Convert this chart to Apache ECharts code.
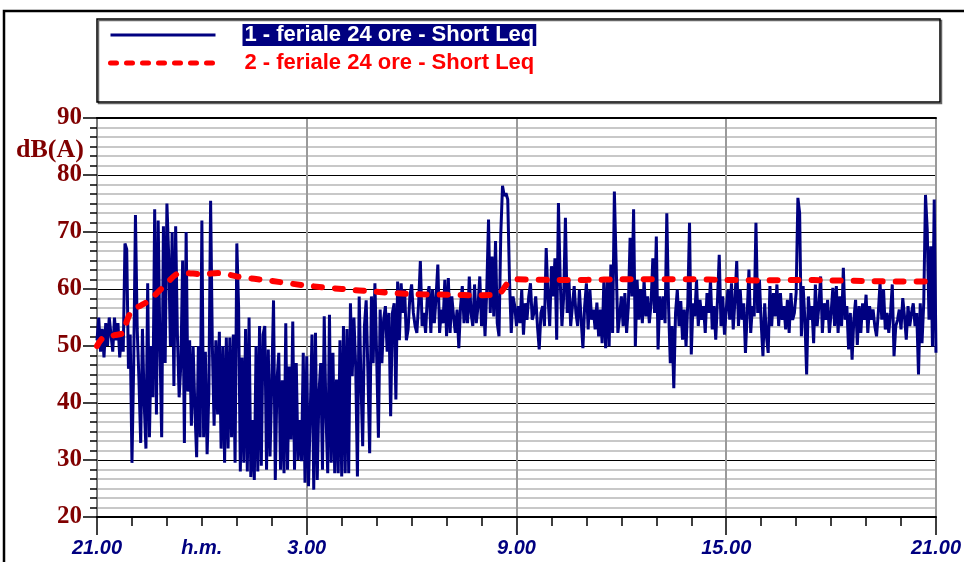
<!DOCTYPE html>
<html>
<head>
<meta charset="utf-8">
<script src="https://cdn.jsdelivr.net/npm/echarts@6/dist/echarts.min.js"></script>
<style>
  html, body { margin: 0; padding: 0; background: #fff; }
  #chart { width: 964px; height: 562px; }
</style>
</head>
<body>
<div id="chart"></div>
<script>
// serie 1: Short Leq ogni 3 minuti dalle 21.00 alle 21.00 del giorno dopo
const blueValues = [
  51, 55, 49, 53, 48, 54, 50, 55, 52, 49, 55, 51, 54, 48, 52,
  49, 68, 67, 46, 52, 29.5, 47, 73, 53, 44, 33, 53, 40, 32, 61,
  34, 50, 41, 74, 38, 72, 50, 34, 71, 47, 75, 66, 50, 70, 43,
  71, 52, 41, 47, 65, 33, 70, 42, 51, 36, 50, 39, 30.5, 50, 34,
  72, 34, 49, 31, 42, 75.5, 50, 36, 51, 38, 52.5, 32, 50, 29.5, 51.5,
  32, 51.5, 34, 52, 29.5, 68, 57, 28, 48, 29.5, 53, 28, 55, 27, 37,
  26.5, 50, 28, 53.5, 29, 52,
  53.5, 28.3, 49.4, 30.6, 44, 58, 26.5, 44, 48.8, 28.3,
  44, 27.7, 54, 28.3, 46.4, 33.6, 54.3, 28.3, 47, 30,
  37, 29.8, 48.8, 26, 48.2, 25.4, 38, 52, 24.8, 52.3,
  26.5, 41.8, 47, 28.3, 55.2, 38, 27.7, 55.5, 29.5, 48.8,
  27.7, 44.1, 27.7, 51, 27.1, 53.5, 27.7, 53, 27.7, 57.5,
  44.7, 55, 46.4, 27.1, 58.7, 44, 32.4, 53.5, 58, 45.3,
  31.2, 58.7, 47, 61, 48.2, 33.9, 56.4, 47, 54.6, 57,
  49, 55.8, 37.7, 55.8, 57.5, 40.6, 61.3, 51, 61, 55.8,
  59.9, 51, 52.9, 58.7, 60.8, 55.8, 53.5, 52.3, 57.5, 64.9,
  53.5, 55.8, 52.3, 58.7, 60.5,
  52.3, 59.9, 54, 58.7, 64.3, 52.3, 56.4, 54, 61.6, 51.7,
  61.9, 52.3, 58.7, 55.2, 52.3, 56.4, 49.6, 57, 60.5, 54,
  58.7, 54, 62.2, 55.8, 53.5, 60.8, 54, 57, 62.2, 53.5,
  59.3, 51.7, 59.9, 72.2, 55.8, 65.7, 55.2, 68.4, 54, 51.7,
  69.5, 78.1, 76.3, 76.8, 75.7, 61.6, 52.3, 58.7, 57, 53.5,
  57, 54, 59.9, 52, 57.5, 54.6, 58.7, 61, 54.6, 55.8,
  58.7, 53.5, 49.4, 55.8, 57, 53.5, 67.2, 58.7, 53.5, 64,
  58.7, 65.4, 51.1, 75.1, 61.6, 53.5, 58.7, 72.5, 55.8, 61.6,
  53.5, 57, 60.5, 55.8, 53.5, 59.9, 54.6, 49.6, 57, 61,
  52.9, 59.9, 54.6, 56.4,
  52.9, 57.6, 51.7, 56.4, 50.5, 61.6, 49.6, 61.6, 49.9, 64.3,
  52.3, 77.1, 64.6, 52.3, 55.2, 58.7, 53.5, 59.3, 52.3, 57,
  69, 58.7, 74, 49.9, 61.6, 54.6, 59.9, 54, 61.6, 55.2,
  58.7, 54, 57.5, 65.4, 55.8, 69.2, 49.4, 58.7, 54.6, 58.7,
  54, 73.3, 57, 47, 53.5, 42.6, 55.8, 59.9, 53.5, 57.9,
  51.1, 56.4, 49.9, 57.5, 71.6, 48.5, 57.5, 55.2, 61.6, 53.5,
  58.1, 54.6, 57, 52.3, 59.3, 55.8, 61.6, 52.9, 57, 51.1,
  58.1, 66, 53.5, 58.7, 52, 56.4, 59.9, 54.6, 61, 52.9,
  58.1, 64.9, 53.5, 59.9, 54.6, 57.5, 48.8, 55.8, 63.4, 52.3,
  57, 55.2, 71.6, 55.8, 61.6, 54, 48.2, 57.5,
  51.7, 48.8, 60.5, 53.5, 59.3, 55.2, 60.8, 53.5, 59.3, 54.6,
  57, 52.9, 58.1, 52.3, 59.3, 54.6, 55.8, 59.3, 76, 73.3,
  51.7, 60.5, 54.6, 45, 58.7, 54.6, 57, 50.5, 60.8, 53.5,
  57, 62.2, 52.3, 57.5, 54.6, 58.1, 52.3, 55.8, 60.2, 53.5,
  60.5, 52.3, 58.7, 53.5, 63.7, 54.6, 57, 49.4, 55.8, 47.6,
  54.6, 58.1, 50.2, 57, 52.3, 57.5, 54.6, 59, 52.3, 57,
  54.6, 56.4, 53.5, 51.7, 55.8, 61.1, 54.6, 60, 52.9, 55.8,
  52.3, 55.8, 60.8, 48.2, 53.5, 54.6, 56.4, 52.9, 58.4, 55.2,
  51.1, 57, 53.5, 55.8, 57.5, 53.5, 55.8, 45, 57.5, 50.5,
  57.5, 76.5, 70.4, 54.6, 67.5, 49.9, 75.7, 48.8
];

// serie 2: Leq progressivo (minuti dalle 21.00)
const redTimes = [0, 10, 30, 45, 50, 60, 75, 90, 105, 120, 135, 150, 180, 210, 240,
  300, 360, 420, 480, 540, 600, 660, 690, 705, 720, 780, 840, 900, 960, 1020,
  1080, 1140, 1200, 1260, 1320, 1380, 1440];
const redValues = [50, 51.4, 51.9, 52.3, 54, 56.3, 57.1, 58, 59.5, 61, 62.5, 62.8, 62.6, 62.8, 62.2,
  61.4, 60.6, 60, 59.5, 59.1, 59, 58.9, 59.2, 61, 61.7, 61.6, 61.6, 61.7, 61.7, 61.7,
  61.6, 61.5, 61.6, 61.5, 61.4, 61.3, 61.3];

const seriesNames = ["1 - feriale 24 ore - Short Leq", "2 - feriale 24 ore - Short Leq"];

// etichette asse x (minuti dalle 21.00)
const xLabelValues = [0, 180, 360, 720, 1080, 1440];
const xLabelTexts = ["21.00", "h.m.", "3.00", "9.00", "15.00", "21.00"];

const totalMinutes = 1440;
const blueData = blueValues.map((v, i) => [i * totalMinutes / (blueValues.length - 1), v]);
const redData = redTimes.map((t, i) => [t, redValues[i]]);

const blueLine = { color: "#000080", width: 3 };
const redLine = { color: "#ff0000", width: 6, type: [8, 13], cap: "round" };
const legendFont = "Liberation Sans, Arial, sans-serif";

const chart = echarts.init(document.getElementById("chart"));

chart.setOption({
  backgroundColor: "#fff",
  animation: false,
  grid: { left: 97, right: 24, top: 118, bottom: 45 },
  legend: {
    orient: "vertical",
    left: 103,
    top: 19,
    itemWidth: 105,
    itemHeight: 12,
    itemGap: 6,
    data: [
      { name: seriesNames[0], itemStyle: { color: "transparent", borderWidth: 0 },
        lineStyle: { color: "#000080", width: 3 } },
      { name: seriesNames[1], itemStyle: { color: "transparent", borderWidth: 0 },
        lineStyle: { color: "#ff0000", width: 5, type: [6, 10], cap: "round" } }
    ],
    textStyle: {
      fontFamily: legendFont,
      fontWeight: "bold",
      fontSize: 22,
      rich: {
        g: { width: 22 },
        a: { backgroundColor: "#000080", color: "#fff", padding: [0, 2, 0, 2],
             fontFamily: legendFont, fontWeight: "bold", fontSize: 22 },
        b: { color: "#ff0000", padding: [0, 2, 0, 2],
             fontFamily: legendFont, fontWeight: "bold", fontSize: 22 }
      }
    },
    formatter: name => name === seriesNames[0] ? "{g|}{a|" + name + "}" : "{g|}{b|" + name + "}"
  },
  graphic: [
    { type: "rect", shape: { x: 4, y: 11, width: 990, height: 600 },
      style: { fill: "none", stroke: "#000", lineWidth: 2.5 }, silent: true },
    { type: "rect", shape: { x: 97, y: 19, width: 843, height: 83 },
      style: { fill: "none", stroke: "#000", lineWidth: 1.5,
               shadowColor: "rgba(0,0,0,0.6)", shadowOffsetX: 1.5, shadowOffsetY: 1.5 }, silent: true },
    { type: "text", x: 50, y: 150,
      style: { text: "dB(A)", fill: "#800000", font: "bold 26px 'Liberation Serif', 'Times New Roman', serif",
               align: "center", verticalAlign: "middle" } }
  ],
  xAxis: [
    {
      type: "value",
      min: 0,
      max: totalMinutes,
      interval: 360,
      axisLine: { lineStyle: { color: "#000", width: 2 } },
      axisTick: { length: 18, lineStyle: { color: "#000", width: 1.5 } },
      minorTick: { show: true, splitNumber: 6, length: 9, lineStyle: { color: "#000", width: 1.5 } },
      splitLine: { show: true, lineStyle: { color: "#9a9a9a", width: 2 } },
      axisLabel: {
        customValues: xLabelValues,
        formatter: v => xLabelTexts[xLabelValues.indexOf(v)] ?? "",
        color: "#000080",
        fontFamily: legendFont,
        fontStyle: "italic",
        fontWeight: "bold",
        fontSize: 20,
        margin: 21
      }
    },
    {
      type: "value",
      position: "top",
      min: 0,
      max: totalMinutes,
      axisLine: { show: true, lineStyle: { color: "#000", width: 2 } },
      axisTick: { show: false },
      axisLabel: { show: false },
      splitLine: { show: false }
    }
  ],
  yAxis: [
    {
      type: "value",
      min: 20,
      max: 90,
      interval: 10,
      axisLine: { show: true, lineStyle: { color: "#000", width: 2 } },
      axisTick: { show: true, length: 14, lineStyle: { color: "#000", width: 1.5 } },
      minorTick: { show: true, splitNumber: 6, length: 7, lineStyle: { color: "#000", width: 1.5 } },
      splitLine: { show: true, lineStyle: { color: "#000", width: 1 } },
      minorSplitLine: { show: true, lineStyle: { color: "#c8c8c8", width: 2 } },
      axisLabel: {
        color: "#800000",
        fontFamily: "Liberation Serif, Times New Roman, serif",
        fontWeight: "bold",
        fontSize: 25,
        margin: 15
      }
    },
    {
      type: "value",
      position: "right",
      min: 20,
      max: 90,
      axisLine: { show: true, lineStyle: { color: "#777", width: 2 } },
      axisTick: { show: false },
      axisLabel: { show: false },
      splitLine: { show: false }
    }
  ],
  series: [
    {
      name: seriesNames[0],
      type: "line",
      data: blueData,
      symbol: "none",
      lineStyle: blueLine,
      itemStyle: { color: "#000080" },
      z: 3
    },
    {
      name: seriesNames[1],
      type: "line",
      data: redData,
      symbol: "none",
      smooth: 0.3,
      lineStyle: redLine,
      itemStyle: { color: "#ff0000" },
      z: 4
    }
  ]
});
</script>
</body>
</html>
